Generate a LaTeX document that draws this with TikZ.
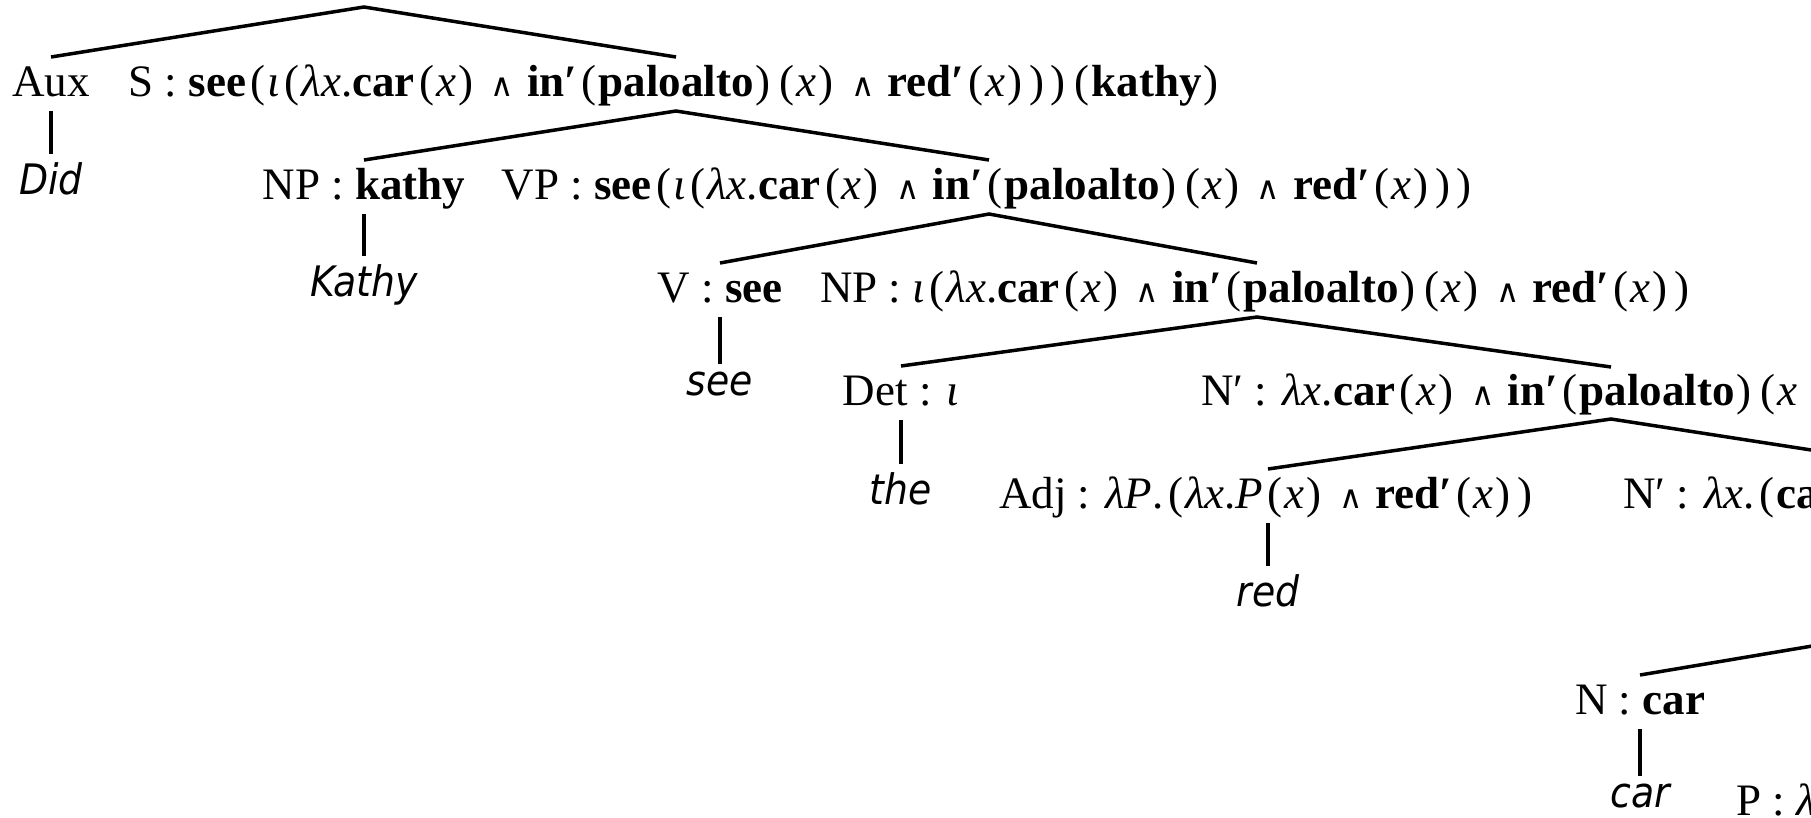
\documentclass[tikz,border=0pt]{standalone}
\usepackage{fontspec}
\setmainfont{Liberation Serif}
\newfontfamily\leaffont[FakeStretch=0.9]{DejaVu Sans}
\newfontfamily\symfont{DejaVu Sans}
\newcommand{\vx}{\textit{x}}
\newcommand{\lam}{\textit{λ}}
\newcommand{\io}{\textit{ι}}
\newcommand{\aand}{\hspace{13pt}{\symfont\fontsize{32}{32}\selectfont ∧}\hspace{13pt}}
\newcommand{\bpr}[1]{\textbf{#1′}}
\newcommand{\lp}{\kern4.5pt(\kern2pt}
\newcommand{\rp}{\kern2pt)\kern4.5pt}
\begin{document}
\begin{tikzpicture}[x=1pt,y=-1pt,
  lab/.style={anchor=base, inner sep=0pt, font=\fontsize{45}{50}\selectfont},
  leaf/.style={anchor=north, inner sep=0pt, yshift=-8pt, font=\leaffont\itshape\fontsize{42}{50}\selectfont},
  br/.style={line width=3.5pt, line cap=butt}]
\useasboundingbox (0,0) rectangle (1811,817);
\clip (0,0) rectangle (1811,817);
% internal nodes
\coordinate (root) at (364,7);
\node[lab] (aux) at (51,96) {Aux};
\node[lab] (s) at (676,96) {S : \textbf{see}\lp\io\lp\lam\vx.\textbf{car}\lp\vx\rp\aand\bpr{in}\lp\textbf{paloalto}\rp\lp\vx\rp\aand\bpr{red}\lp\vx\rp\rp\rp\lp\textbf{kathy}\rp};
\node[lab] (npk) at (364,199) {NP : \textbf{kathy}};
\node[lab] (vp) at (989,199) {VP : \textbf{see}\lp\io\lp\lam\vx.\textbf{car}\lp\vx\rp\aand\bpr{in}\lp\textbf{paloalto}\rp\lp\vx\rp\aand\bpr{red}\lp\vx\rp\rp\rp};
\node[lab] (v) at (720,302) {V : \textbf{see}};
\node[lab] (np) at (1257,302) {NP : \io\lp\lam\vx.\textbf{car}\lp\vx\rp\aand\bpr{in}\lp\textbf{paloalto}\rp\lp\vx\rp\aand\bpr{red}\lp\vx\rp\rp};
\node[lab] (det) at (901,405) {Det : \io};
\node[lab, anchor=base west] (nb) at (1201,405) {N′ : \lam\vx.\textbf{car}\lp\vx\rp\aand\bpr{in}\lp\textbf{paloalto}\rp\lp\vx};
\coordinate (nbtop) at (1611,367);
\coordinate (nbbot) at (1611,419);
\node[lab] (adj) at (1268,508) {Adj : \lam\textit{P}.\lp\lam\vx.\textit{P}\lp\vx\rp\aand\bpr{red}\lp\vx\rp\rp};
\node[lab, anchor=base west] (nbb) at (1623,508) {N′ : \lam\vx.\lp\textbf{ca}};
\coordinate (nbbtop) at (1934,469);
\coordinate (ncpar) at (1931,626);
\node[lab] (n) at (1640,714) {N : \textbf{car}};
\node[lab, anchor=base west] (p) at (1736,815) {P : \lam};
% leaves
\node[leaf] (did) at (51,154) {Did};
\node[leaf] (kathy) at (364,256) {Kathy};
\node[leaf] (see) at (720,364) {see};
\node[leaf] (the) at (901,464) {the};
\node[leaf] (red) at (1268,566) {red};
\node[leaf] (car) at (1640,776) {car};
% branches
\draw[br] ([yshift=39pt]aux.base) -- (root) -- ([yshift=39pt]s.base);
\draw[br] ([yshift=39pt]npk.base) -- ([yshift=-15pt]s.base) -- ([yshift=39pt]vp.base);
\draw[br] ([yshift=39pt]v.base) -- ([yshift=-15pt]vp.base) -- ([yshift=39pt]np.base);
\draw[br] ([yshift=39pt]det.base) -- ([yshift=-15pt]np.base) -- (nbtop);
\draw[br] ([yshift=39pt]adj.base) -- (nbbot) -- (nbbtop);
\draw[br] ([yshift=39pt]n.base) -- (ncpar);
% leaf lines
\draw[br] ([yshift=-15pt]aux.base) -- ([yshift=8pt]did.north);
\draw[br] ([yshift=-15pt]npk.base) -- ([yshift=8pt]kathy.north);
\draw[br] ([yshift=-15pt]v.base) -- ([yshift=8pt]see.north);
\draw[br] ([yshift=-15pt]det.base) -- ([yshift=8pt]the.north);
\draw[br] ([yshift=-15pt]adj.base) -- ([yshift=8pt]red.north);
\draw[br] ([yshift=-15pt]n.base) -- ([yshift=8pt]car.north);
\end{tikzpicture}
\end{document}
